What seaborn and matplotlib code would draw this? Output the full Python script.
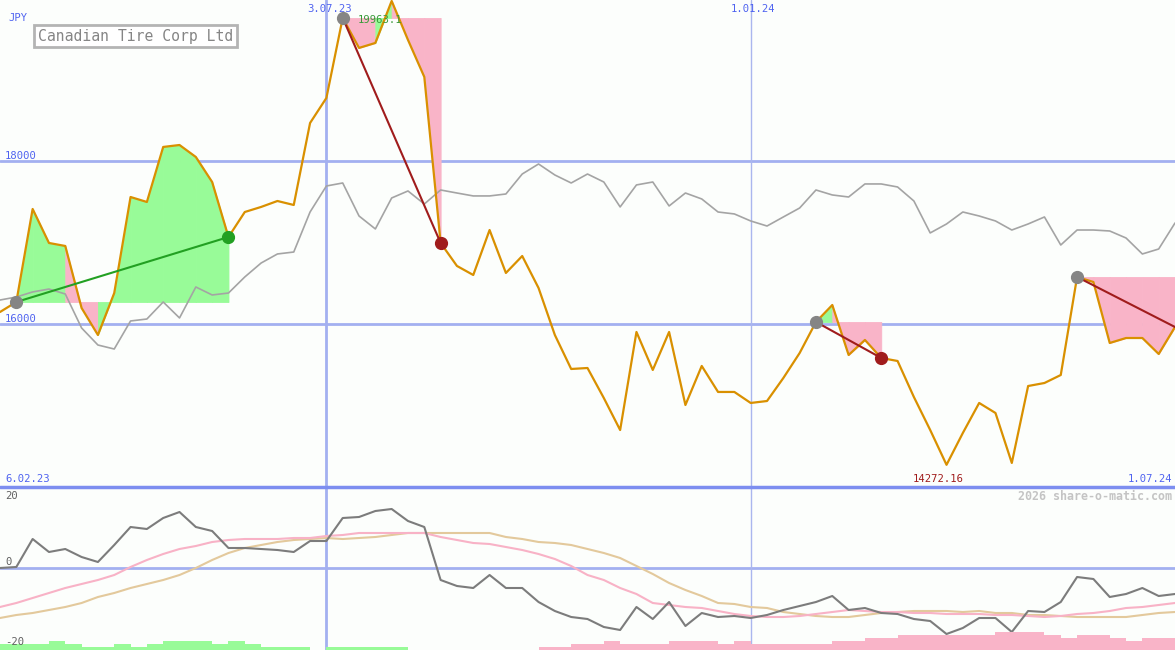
import numpy as np
import pandas as pd
import seaborn as sns
import matplotlib.pyplot as plt

# weekly closes, Canadian Tire Corp Ltd (JPY)
weeks = pd.date_range('2023-02-13', periods=73, freq='7D')

price = [16147, 16270, 17411, 16994, 16957, 16196, 15865, 16380, 17558, 17497,
         18172, 18196, 18049, 17742, 17067, 17374, 17436, 17509, 17460, 18466,
         18773, 19755, 19387, 19448, 19963.1, 19485, 19031, 16994, 16712, 16601,
         17153, 16626, 16834, 16442, 15865, 15448, 15460, 15092, 14699, 15902,
         15436, 15902, 15006, 15485, 15166, 15166, 15031, 15055, 15337, 15644,
         16025, 16233, 15620, 15804, 15583, 15546, 15104, 14699, 14272.16, 14663,
         15031, 14908, 14295, 15239, 15276, 15374, 16577, 16515, 15767, 15828,
         15828, 15632, 15963]

# market index, rescaled to the price
index_line = [16294, 16331, 16393, 16429, 16368, 15951, 15742, 15693, 16037, 16061,
              16270, 16074, 16454, 16356, 16380, 16577, 16748, 16859, 16883, 17374,
              17693, 17730, 17325, 17166, 17546, 17632, 17472, 17644, 17607, 17571,
              17571, 17595, 17840, 17963, 17828, 17730, 17840, 17742, 17436, 17706,
              17742, 17448, 17607, 17534, 17374, 17350, 17264, 17202, 17313, 17423,
              17644, 17583, 17558, 17718, 17718, 17681, 17509, 17117, 17227, 17374,
              17325, 17264, 17153, 17227, 17313, 16969, 17153, 17153, 17141, 17055,
              16859, 16920, 17239]

osc = [0, 0.25, 7.25, 4, 4.75, 2.75, 1.5, 5.75, 10.25, 9.75,
       12.5, 14, 10.25, 9.25, 5, 5, 4.75, 4.5, 4, 6.75,
       6.75, 12.5, 12.75, 14.25, 14.75, 11.75, 10.25, -3, -4.5, -5,
       -1.75, -5, -5, -8.5, -10.75, -12.25, -12.75, -14.75, -15.5, -9.75,
       -12.75, -8.5, -14.5, -11.25, -12.25, -12, -12.5, -11.75, -10.5, -9.5,
       -8.5, -7, -10.5, -10, -11.25, -11.5, -12.75, -13.25, -16.5, -15,
       -12.5, -12.5, -16, -10.75, -11, -8.5, -2.25, -2.75, -7.25, -6.5,
       -5, -7, -6.5]

osc_fast = [-9.75, -8.75, -7.5, -6.25, -5, -4, -3, -1.75, 0.25, 2,
            3.5, 4.75, 5.5, 6.5, 7, 7.25, 7.25, 7.25, 7.5, 7.5,
            8, 8.25, 8.75, 8.75, 8.75, 8.75, 8.75, 7.75, 7, 6.25,
            6, 5.25, 4.5, 3.5, 2.25, 0.5, -1.75, -3, -5, -6.5,
            -8.75, -9.25, -9.75, -10, -10.75, -11.5, -12, -12.25, -12.25, -12,
            -11.5, -11, -10.5, -10.75, -11, -11, -11.25, -11.25, -11.5, -11.5,
            -11.5, -11.75, -11.75, -12, -12.25, -12, -11.5, -11.25, -10.75, -10,
            -9.75, -9.25, -8.75]

osc_slow = [-12.5, -11.75, -11.25, -10.5, -9.75, -8.75, -7.25, -6.25, -5, -4,
            -3, -1.75, 0, 2, 3.75, 5, 5.75, 6.5, 7, 7.25,
            7.5, 7.25, 7.5, 7.75, 8.25, 8.75, 8.75, 8.75, 8.75, 8.75,
            8.75, 7.75, 7.25, 6.5, 6.25, 5.75, 4.75, 3.75, 2.5, 0.5,
            -1.5, -3.75, -5.5, -7, -8.75, -9, -9.75, -10, -11, -11.5,
            -12, -12.25, -12.25, -11.75, -11.25, -11, -10.75, -10.75, -10.75, -11,
            -10.75, -11.25, -11.25, -11.75, -11.75, -12, -12.25, -12.25, -12.25, -12.25,
            -11.75, -11.25, -11]

# signal strength per week (green > 0, pink < 0)
signal = [2, 2, 2, 3, 2, 1, 1, 2, 1, 2, 3, 3, 3, 2, 3, 2, 1, 1, 1, 0,
          1, 1, 1, 1, 1, 0, 0, 0, 0, 0, 0, 0, 0, -1, -1, -2, -2, -3, -2, -2,
          -2, -3, -3, -3, -2, -3, -2, -2, -2, -2, -2, -3, -3, -4, -4, -5, -5, -5, -5, -5,
          -5, -6, -6, -6, -5, -4, -5, -5, -4, -3, -4, -4]

trade_start = [1, 21, 50, 66]
trade_end = [14, 27, 54, 72]
trade_open = [False, False, False, True]

df = pd.DataFrame({'week': weeks, 'price': price, 'index': index_line,
                   'osc': osc, 'fast': osc_fast, 'slow': osc_slow})

sns.set_style('white')
plt.rcParams['font.family'] = ['DejaVu Sans Mono']

bg = '#fcfefc'
blue_txt = '#4f63f0'
grid_c = '#a3b0f0'
green_fill = '#98fb98'
pink_fill = '#f9b4c8'

fig = plt.figure(figsize=(11.75, 6.5), dpi=100)
fig.patch.set_facecolor(bg)
ax = fig.add_axes([0, 163 / 650, 1, 487 / 650])
ax2 = fig.add_axes([0, 0, 1, 163 / 650], sharex=ax)
for a in (ax, ax2):
    a.set_facecolor(bg)
    for s in a.spines.values():
        s.set_visible(False)

ax.set_xlim(weeks[0], weeks[-1])
ax.set_ylim(14000, 19975)
ax2.set_ylim(-20.5, 20.25)

# grid
for lvl in (16000, 18000):
    ax.axhline(lvl, color=grid_c, lw=2, zorder=1)
ax2.axhline(0, color=grid_c, lw=2, zorder=1)
ax2.axhline(20.25, color='#7d8ef0', lw=2.5, zorder=6, clip_on=False)
for a in (ax, ax2):
    a.axvline(pd.Timestamp('2023-07-03'), color=grid_c, lw=2, zorder=1)
    a.axvline(pd.Timestamp('2024-01-01'), color='#aab6ee', lw=1, zorder=1)

# trade fills, one weekly column at a time
for s, e in zip(trade_start, trade_end):
    base = price[s]
    for i in range(s, e):
        c = green_fill if price[i + 1] > base else pink_fill
        ax.fill_between(weeks[i:i + 2], price[i:i + 2], base, facecolor=c,
                        edgecolor=c, lw=0.6, zorder=2)

sns.lineplot(data=df, x='week', y='index', ax=ax, color='#a4a4a4', lw=1.2, zorder=3)
sns.lineplot(data=df, x='week', y='price', ax=ax, color='#d99000', lw=1.6, zorder=4)

for s, e, op in zip(trade_start, trade_end, trade_open):
    win = price[e] > price[s]
    lc = '#22a022' if win else '#a01c1c'
    ax.plot([weeks[s], weeks[e]], [price[s], price[e]], color=lc, lw=1.5, zorder=5)
    ax.plot(weeks[s], price[s], 'o', color='#858585', ms=8.5, zorder=6)
    if not op:
        ax.plot(weeks[e], price[e], 'o', color=lc, ms=8.5, zorder=6)

# lower panel
sns.lineplot(data=df, x='week', y='slow', ax=ax2, color='#e3c99c', lw=1.5, zorder=3)
sns.lineplot(data=df, x='week', y='fast', ax=ax2, color='#f8b2c6', lw=1.5, zorder=3)
sns.lineplot(data=df, x='week', y='osc', ax=ax2, color='#7c7c7c', lw=1.5, zorder=4)

ax3 = ax2.twinx()
ax3.set_ylim(0, 163 / 3)
ax3.set_axis_off()
bar_c = [green_fill if v > 0 else pink_fill for v in signal]
ax3.bar(weeks[:-1], np.abs(signal), width=7, align='edge', color=bar_c, lw=0)
ax2.set_xlim(weeks[0], weeks[-1])

for a in (ax, ax2):
    a.set_xticks([])
    a.set_yticks([])
    a.set_xlabel('')
    a.set_ylabel('')


def px(x, y):
    return x / 1175, 1 - y / 650


fs = 7.6
fig.text(*px(8, 18), 'JPY', color=blue_txt, fontsize=fs, va='center')
fig.text(*px(5, 156), '18000', color=blue_txt, fontsize=fs, va='center')
fig.text(*px(5, 319), '16000', color=blue_txt, fontsize=fs, va='center')
fig.text(*px(330, 9), '3.07.23', color=blue_txt, fontsize=fs, va='center', ha='center')
fig.text(*px(753, 9), '1.01.24', color=blue_txt, fontsize=fs, va='center', ha='center')
fig.text(*px(5, 479), '6.02.23', color=blue_txt, fontsize=fs, va='center')
fig.text(*px(1172, 479), '1.07.24', color=blue_txt, fontsize=fs, va='center', ha='right')
fig.text(*px(938, 479), '14272.16', color='#a01c1c', fontsize=fs, va='center', ha='center')
fig.text(*px(358, 20), '19963.1', color='#3a9a3a', fontsize=fs, va='center', zorder=1)
fig.text(*px(1172, 496), '2026 share-o-matic.com', color='#c4c4c4', fontsize=8.4,
         va='center', ha='right', fontweight='bold')
fig.text(*px(5, 496), '20', color='#606060', fontsize=fs, va='center')
fig.text(*px(5, 562), '0', color='#606060', fontsize=fs, va='center')
fig.text(*px(5, 642), '-20', color='#606060', fontsize=fs, va='center')
fig.text(*px(38, 36), 'Canadian Tire Corp Ltd', color='#858585', fontsize=10.6, va='center',
         bbox=dict(boxstyle='square,pad=0.25', fc='white', ec='#b4b4b4', lw=2))

fig.savefig('out.png', dpi=100, facecolor=bg)
